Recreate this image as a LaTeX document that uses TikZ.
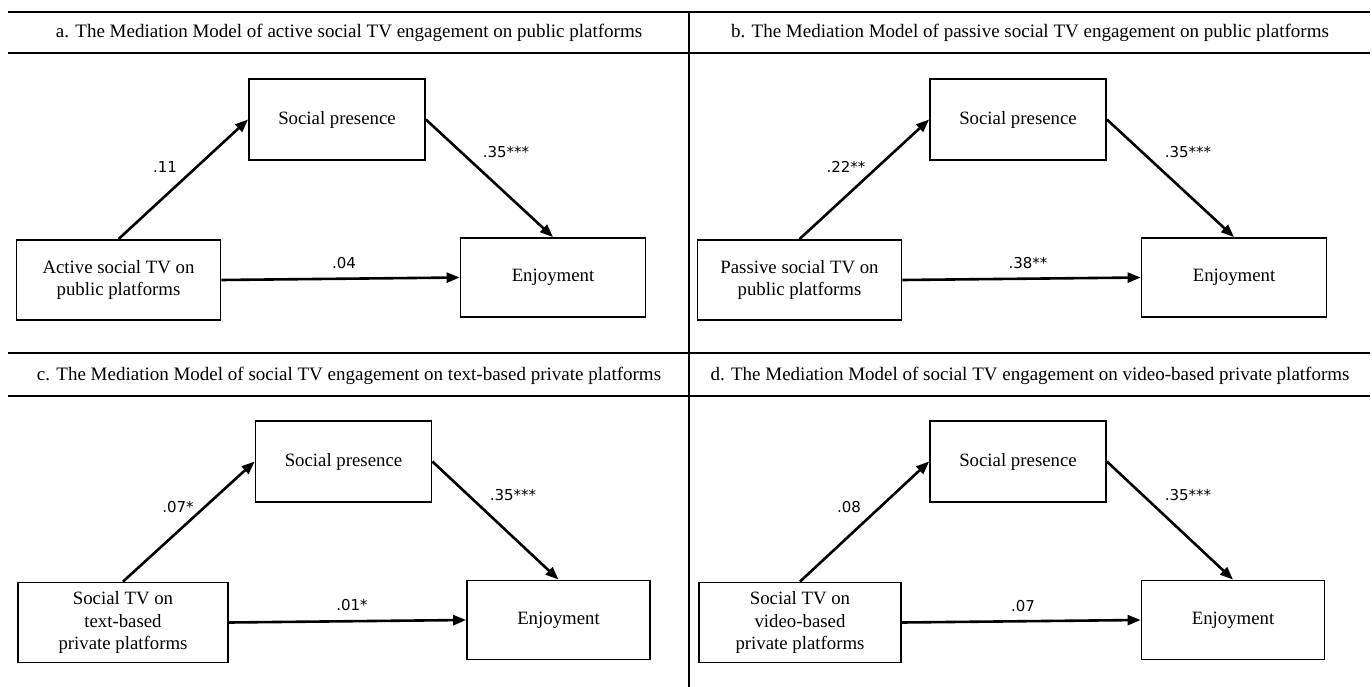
\documentclass[tikz,border=0pt]{standalone}
\usepackage{fontspec}
\setmainfont{Liberation Serif}
\newfontfamily\numfont{DejaVu Sans}
\usetikzlibrary{arrows.meta}
\begin{document}
\begin{tikzpicture}[x=1pt,y=-1pt,
  box/.style={draw, line width=1.8pt, inner sep=0pt, align=center, font=\fontsize{18.8}{22.5}\selectfont},
  spbox/.style={box, minimum width=176pt, minimum height=81pt},
  inbox/.style={box, minimum width=204pt, minimum height=80pt},
  enbox/.style={box, minimum width=185pt, minimum height=79pt},
  arr/.style={line width=2.6pt, -{Triangle[length=13pt,width=10pt]}},
  coef/.style={font=\numfont\fontsize{15}{16}\selectfont, inner sep=0pt},
  head/.style={font=\fontsize{19}{21}\selectfont, anchor=base, inner sep=0pt},
  rule/.style={line width=1.3pt}]
\useasboundingbox (0,0) rectangle (1372,687);

% table rules
\coordinate (r1l) at (8,12);   \coordinate (r1r) at (1370,12);
\coordinate (r2l) at (8,53);   \coordinate (r2r) at (1370,53);
\coordinate (r3l) at (8,353);  \coordinate (r3r) at (1370,353);
\coordinate (r4l) at (8,396);  \coordinate (r4r) at (1370,396);
\coordinate (vt) at (689,12);  \coordinate (vb) at (689,687);
\draw[rule] (r1l) -- (r1r);
\draw[rule] (r2l) -- (r2r);
\draw[rule] (r3l) -- (r3r);
\draw[rule] (r4l) -- (r4r);
\draw[rule] (vt) -- (vb);

% headers
\node[head] (ha) at (349,38) {a. The Mediation Model of active social TV engagement on public platforms};
\node[head] (hb) at (1030,38) {b. The Mediation Model of passive social TV engagement on public platforms};
\node[head] (hc) at (349,380) {c. The Mediation Model of social TV engagement on text-based private platforms};
\node[head] (hd) at (1030,380) {d. The Mediation Model of social TV engagement on video-based private platforms};

% panel a
\node[spbox] (sa) at (337,119.5) {Social presence};
\node[inbox] (xa) at (118.5,280) {Active social TV on\\public platforms};
\node[enbox] (ya) at (553,277.5) {Enjoyment};
\draw[arr] (xa.north) -- (sa.west);
\draw[arr] (sa.east) -- (ya.north);
\draw[arr] (xa.east) -- (ya.west);
\node[coef] (la1) at (165,167) {.11};
\node[coef] (la2) at (506,152) {.35***};
\node[coef] (la3) at (344,263) {.04};

% panel b
\node[spbox] (sb) at (1018,119.5) {Social presence};
\node[inbox] (xb) at (799.5,280) {Passive social TV on\\public platforms};
\node[enbox] (yb) at (1234,277.5) {Enjoyment};
\draw[arr] (xb.north) -- (sb.west);
\draw[arr] (sb.east) -- (yb.north);
\draw[arr] (xb.east) -- (yb.west);
\node[coef] (lb1) at (846,167) {.22**};
\node[coef] (lb2) at (1188,152) {.35***};
\node[coef] (lb3) at (1028,263) {.38**};

% panel c
\node[spbox] (sc) at (343.5,461.5) {Social presence};
\node[box, minimum width=210pt, minimum height=80pt] (xc) at (123,622.5) {Social TV on\\text-based\\private platforms};
\node[box, minimum width=183pt, minimum height=79pt] (yc) at (558.5,620) {Enjoyment};
\draw[arr] (xc.north) -- (sc.west);
\draw[arr] (sc.east) -- (yc.north);
\draw[arr] (xc.east) -- (yc.west);
\node[coef] (lc1) at (178,507) {.07*};
\node[coef] (lc2) at (513,495) {.35***};
\node[coef] (lc3) at (352,605) {.01*};

% panel d
\node[spbox] (sd) at (1018,461.5) {Social presence};
\node[box, minimum width=202pt, minimum height=80pt] (xd) at (800,622.5) {Social TV on\\video-based\\private platforms};
\node[box, minimum width=183pt, minimum height=79pt] (yd) at (1233,620) {Enjoyment};
\draw[arr] (xd.north) -- (sd.west);
\draw[arr] (sd.east) -- (yd.north);
\draw[arr] (xd.east) -- (yd.west);
\node[coef] (ld1) at (849,507) {.08};
\node[coef] (ld2) at (1188,495) {.35***};
\node[coef] (ld3) at (1023,606) {.07};
\end{tikzpicture}
\end{document}
